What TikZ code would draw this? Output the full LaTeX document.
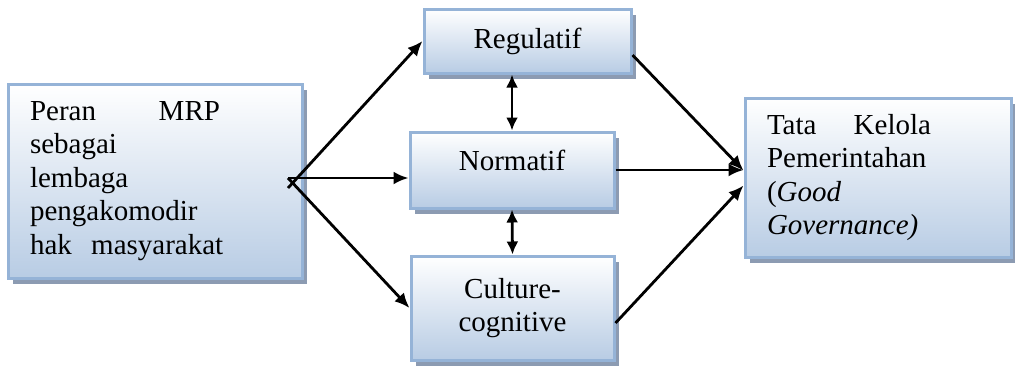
\documentclass[tikz,border=0pt]{standalone}
\usepackage{fontspec}
\setmainfont{Liberation Serif}
\usetikzlibrary{arrows.meta,shadows,calc}
\definecolor{boxline}{RGB}{149,179,215}
\definecolor{boxfill}{RGB}{184,204,228}
\definecolor{boxshadow}{RGB}{140,155,178}

\begin{document}
\begin{tikzpicture}[x=0.5pt, y=-0.5pt,
  box/.style={draw=boxline, line width=1.5pt, top color=white, bottom color=boxfill,
    drop shadow={shadow xshift=2.5pt, shadow yshift=-3pt, fill=boxshadow, opacity=1},
    inner sep=0pt, font=\fontsize{14.5}{16.75}\selectfont},
  link/.style={line width=1.4pt, -{Latex[length=7.5pt,width=6.5pt]}},
  both/.style={line width=1.4pt, {Latex[length=6.5pt,width=6pt]}-{Latex[length=6.5pt,width=6pt]}}]
\useasboundingbox (0,0) rectangle (1015,366);

\node[box, minimum width=147pt, minimum height=97pt, text width=125pt, align=left] (peran) at (155,181)
  {\makebox[95pt][l]{Peran\hfill MRP}\\ sebagai\\ lembaga\\ pengakomodir\\ hak\ \ masyarakat};
\node[box, minimum width=103.5pt, minimum height=32pt] (reg) at (527.5,41) {Regulatif};
\node[box, minimum width=102pt, minimum height=38pt, text height=0.7em, text depth=0.7em] (norm) at (512,170) {Normatif};
\node[box, minimum width=101.5pt, minimum height=52pt, align=center] (cult) at (512.5,308) {Culture-\\ cognitive};
\node[box, minimum width=133pt, minimum height=79.5pt, text width=111pt, align=left] (tata) at (878,177.5)
  {\makebox[82pt][l]{Tata\hfill Kelola}\\ Pemerintahan\\ (\textit{Good}\\ \textit{Governance)}};

\coordinate (hub) at (288,178);

\draw[link] ($(hub)+(0,10)$) -- (reg.west);
\draw[link] (hub) -- (hub -| norm.west);
\draw[link] (hub) -- (cult.west);
\draw[link] ($(reg.east)+(0,14)$) -- ($(tata.west)+(0,-7)$);
\draw[link] (norm.east) -- (norm.east -| tata.west);
\draw[link] ($(cult.east)+(0,15)$) -- ($(tata.west)+(0,8)$);
\draw[both] (norm.north |- reg.south) -- (norm.north);
\draw[both] (norm.south) -- (cult.north);
\end{tikzpicture}
\end{document}
